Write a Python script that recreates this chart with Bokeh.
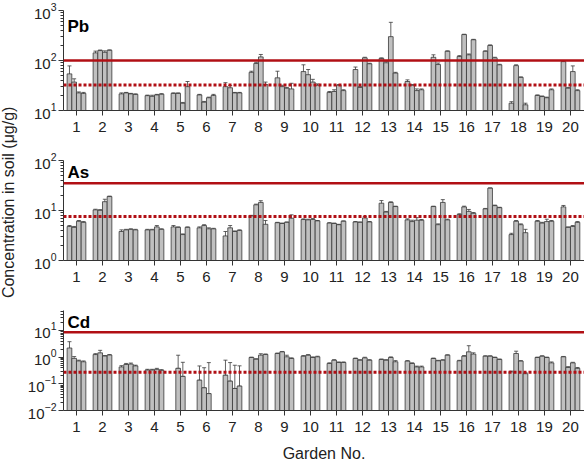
import math
from bokeh.plotting import figure
from bokeh.layouts import row, column
from bokeh.models import (ColumnDataSource, Whisker, TeeHead, Span, FixedTicker,
                          Label)
from bokeh.embed import file_html
from bokeh.resources import INLINE
from bokeh.core.properties import value

nan = float("nan")

gardens = list(range(1, 21))

# Four soil samples per garden, concentrations in µg/g
pb = [
    [54, 37, 22.5, 22], [142, 158, 146, 160], [21.5, 22.5, 21.5, 21],
    [19.8, 19.2, 20.5, 21.2], [22, 22, 14, 30], [20.5, 14.7, 18, 20],
    [30, 28.5, 22.5, 22.5], [58, 87, 118, 33], [45, 30, 28, 27],
    [60, 52, 37, 32], [23, 24, 32, 25], [66, 29, 113, 86],
    [110, 90, 300, 56], [38, 32, 25, 26], [116, 83, nan, 153],
    [120, 330, 130, 260], [153, 200, 113, 82], [14, 79, 46, 13],
    [20, 19, 18, 26], [95, 28, 60, 25],
]
pb_err = [
    [24, 6, 1, 1], [12, 4, 10, 3], [1, 0.5, 0.5, 0.5],
    [0.5, 1, 0.5, 0.5], [0.5, 0.5, 0.5, 8], [0.5, 0.5, 0.5, 1],
    [6, 3, 0.5, 0.5], [3, 5, 14, 4], [16, 2, 1, 8],
    [22, 14, 5, 2], [1, 2, 1, 1], [8, 1, 3, 2],
    [3, 5, 280, 2], [3, 1, 2, 1], [14, 6, nan, 3],
    [5, 5, 5, 5], [3, 5, 3, 2], [1, 3, 1, 1],
    [0.5, 0.5, 0.5, 1], [3, 1, 18, 1],
]

as_ = [
    [4.8, 4.6, 6.1, 5.8], [10.3, 10.1, 15, 19], [3.8, 4.1, 4.2, 4.1],
    [4.1, 4.1, 4.7, 4.2], [4.7, 4.6, 3.3, 4.6], [4.5, 5.0, 4.3, 4.3],
    [3.1, 4.5, 3.8, 4.0], [7.8, 13, 14.5, 5.3], [5.7, 5.5, 5.8, 7.0],
    [6.6, 6.5, 6.6, 6.2], [5.6, 5.5, 5.2, 6.1], [5.9, 5.8, 7.1, 5.9],
    [14, 9.3, 14.5, 12], [6.5, 6.0, 6.4, 6.4], [12, 5.2, 14.5, 6.5],
    [8.3, 11.8, 9.6, 8.8], [10.8, 28, 12.5, 11.4], [3.3, 6.1, 5.2, 3.6],
    [6.1, 5.6, 6.0, 6.1], [11.8, 4.6, 4.8, 5.8],
]
as_err = [
    [0.2, 0.2, 0.2, 0.2], [0.3, 0.3, 1.8, 0.4], [0.3, 0.1, 0.1, 0.1],
    [0.1, 0.1, 0.3, 0.1], [0.3, 0.1, 0.1, 0.1], [0.2, 0.2, 0.2, 0.1],
    [0.7, 0.5, 0.1, 0.1], [0.2, 0.4, 1.2, 1.0], [0.1, 0.1, 0.1, 1.2],
    [0.2, 0.2, 0.3, 0.1], [0.1, 0.1, 0.1, 0.1], [0.1, 0.1, 0.5, 0.1],
    [1.8, 0.3, 0.4, 0.2], [0.3, 0.4, 0.8, 0.2], [0.2, 0.2, 2.0, 0.2],
    [0.3, 0.4, 0.9, 0.3], [0.2, 0.3, 0.3, 0.2], [0.2, 0.2, 0.2, 0.6],
    [0.2, 0.2, 0.7, 0.2], [0.8, 0.1, 0.2, 0.2],
]

cd = [
    [2.2, 0.9, 0.72, 0.67], [1.25, 1.45, 1.1, 1.2], [0.43, 0.53, 0.55, 0.47],
    [0.33, 0.33, 0.35, 0.32], [nan, 0.38, 0.19, nan], [0.137, 0.071, 0.043, nan],
    [0.21, 0.126, 0.067, 0.082], [0.97, 0.84, 1.19, 1.26], [1.37, 1.58, 1.03, 0.89],
    [1.09, 1.19, 0.97, 1.03], [0.58, 0.77, 0.63, 0.63], [0.89, 0.77, 0.94, 0.77],
    [0.82, 0.77, 0.97, 0.67], [0.71, 0.58, 0.43, 0.43], [0.89, 0.73, 0.77, 1.19],
    [0.73, 1.09, 1.58, 1.3], [1.09, 1.09, 0.97, 0.82], [0.28, 1.37, 0.71, 0.24],
    [0.97, 1.09, 0.97, 0.61], [1.03, 0.41, 0.61, 0.38],
]
cd_err = [
    [1.6, 0.15, 0.05, 0.05], [0.1, 0.35, 0.05, 0.05], [0.05, 0.05, 0.05, 0.03],
    [0.02, 0.02, 0.03, 0.02], [nan, 0.8, 0.45, nan], [0.33, 0.33, 0.58, nan],
    [0.56, 0.5, 0.43, 0.39], [0.03, 0.03, 0.15, 0.05], [0.05, 0.05, 0.15, 0.05],
    [0.05, 0.05, 0.05, 0.05], [0.03, 0.03, 0.03, 0.03], [0.03, 0.03, 0.05, 0.03],
    [0.03, 0.03, 0.05, 0.07], [0.03, 0.03, 0.03, 0.03], [0.03, 0.03, 0.03, 0.03],
    [0.03, 0.05, 1.1, 0.15], [0.03, 0.03, 0.03, 0.03], [0.02, 0.3, 0.03, 0.02],
    [0.03, 0.03, 0.03, 0.05], [0.03, 0.03, 0.03, 0.03],
]

# Guideline (solid) and background (dotted) levels
pb_limits = (100, 32.5)
as_limits = (35, 7.6)
cd_limits = (8.5, 0.27)

FONT = "Liberation Sans"
RED = "#b10f14"
BAR_OFFSETS = [-0.27, -0.09, 0.09, 0.27]
BAR_WIDTH = 0.18


def decade_ticks(lo_exp, hi_exp, top):
    """Major ticks at each power of ten, minor ticks at 2..9 x 10^k up to top."""
    major = [10.0 ** k for k in range(lo_exp, hi_exp + 1)]
    minor = [m * 10.0 ** k for k in range(lo_exp, hi_exp + 1)
             for m in range(2, 10) if m * 10.0 ** k <= top]
    return FixedTicker(ticks=major, minor_ticks=minor)


def make_panel(name, vals, errs, y_range, exps, limits, height, top, bottom,
               label_y, xlabel=None):
    xs, tops, ups, lows = [], [], [], []
    for g, row_v, row_e in zip(gardens, vals, errs):
        for off, v, e in zip(BAR_OFFSETS, row_v, row_e):
            if math.isnan(v):
                continue
            xs.append(g + off)
            tops.append(v)
            ups.append(v + e)
            lows.append(v - e if v - e > 0 else v)
    src = ColumnDataSource(dict(x=xs, top=tops, upper=ups, lower=lows))

    p = figure(width=564, height=height, y_axis_type="log",
               x_range=(0.5, 20.54), y_range=y_range,
               output_backend="svg", toolbar_location=None,
               min_border_left=43, min_border_right=0,
               min_border_top=top, min_border_bottom=bottom)
    p.outline_line_color = None
    p.grid.visible = False
    p.background_fill_color = "white"

    p.vbar(x="x", top="top", bottom=y_range[0], width=BAR_WIDTH, source=src,
           fill_color="#c0c0c0", line_color="#383838", line_width=0.8)

    whisk = Whisker(source=src, base="x", upper="upper", lower="lower",
                    line_color="#3a3a3a", line_width=0.8,
                    upper_head=TeeHead(size=4, line_color="#3a3a3a", line_width=0.8),
                    lower_head=TeeHead(size=4, line_color="#3a3a3a", line_width=0.8))
    p.add_layout(whisk)

    p.add_layout(Span(location=limits[0], dimension="width",
                      line_color=RED, line_width=2.5))
    p.add_layout(Span(location=limits[1], dimension="width",
                      line_color=RED, line_width=3, line_dash="3 2"))

    p.add_layout(Label(x=0.5, y=label_y, x_offset=4, text=name,
                       text_font=FONT, text_font_style="bold",
                       text_font_size="17px", text_color="black",
                       text_baseline="alphabetic"))

    p.yaxis.ticker = decade_ticks(exps[0], exps[1], y_range[1])
    p.xaxis.ticker = FixedTicker(ticks=gardens, minor_ticks=[])
    for ax in (p.xaxis[0], p.yaxis[0]):
        ax.axis_line_color = "#333333"
        ax.major_tick_line_color = "#333333"
        ax.minor_tick_line_color = "#333333"
        ax.major_label_text_font = FONT
        ax.major_label_text_font_size = "15px"
        ax.major_label_text_color = "#222222"
    p.xaxis.major_tick_out = 5
    p.xaxis.major_tick_in = 0
    p.xaxis.major_label_standoff = 6
    p.yaxis.major_tick_out = 5
    p.yaxis.major_tick_in = 0
    p.yaxis.minor_tick_out = 3
    p.yaxis.minor_tick_in = 0
    p.yaxis.major_label_standoff = 2
    if xlabel:
        p.xaxis.axis_label = xlabel
        p.xaxis.axis_label_text_font = FONT
        p.xaxis.axis_label_text_font_size = "16px"
        p.xaxis.axis_label_text_font_style = "normal"
        p.xaxis.axis_label_text_color = "#222222"
        p.xaxis.axis_label_standoff = 10
    return p


p1 = make_panel("Pb", pb, pb_err, (10, 1000), (1, 3), pb_limits,
                145, 10, 35, 480)
p2 = make_panel("As", as_, as_err, (1, 100), (0, 2), as_limits,
                150, 15, 35, 57)
p3 = make_panel("Cd", cd, cd_err, (0.01, 56), (-2, 1), cd_limits,
                169, 15, 54, 20, xlabel="Garden No.")

# Shared y-axis title in a narrow strip on the left
lab = figure(width=20, height=464, x_range=(0, 1), y_range=(0, 1),
             output_backend="svg", toolbar_location=None,
             min_border=0)
lab.axis.visible = False
lab.grid.visible = False
lab.outline_line_color = None
lab.text(x=[0.42], y=[0.565], text=["Concentration in soil (μg/g)"],
         angle=math.pi / 2, text_align="center", text_baseline="middle",
         text_font=value(FONT), text_font_size="16px", text_color="#222222")

layout = row(lab, column(p1, p2, p3, spacing=0), spacing=0)

open("out.html", "w").write(file_html(layout, INLINE))
